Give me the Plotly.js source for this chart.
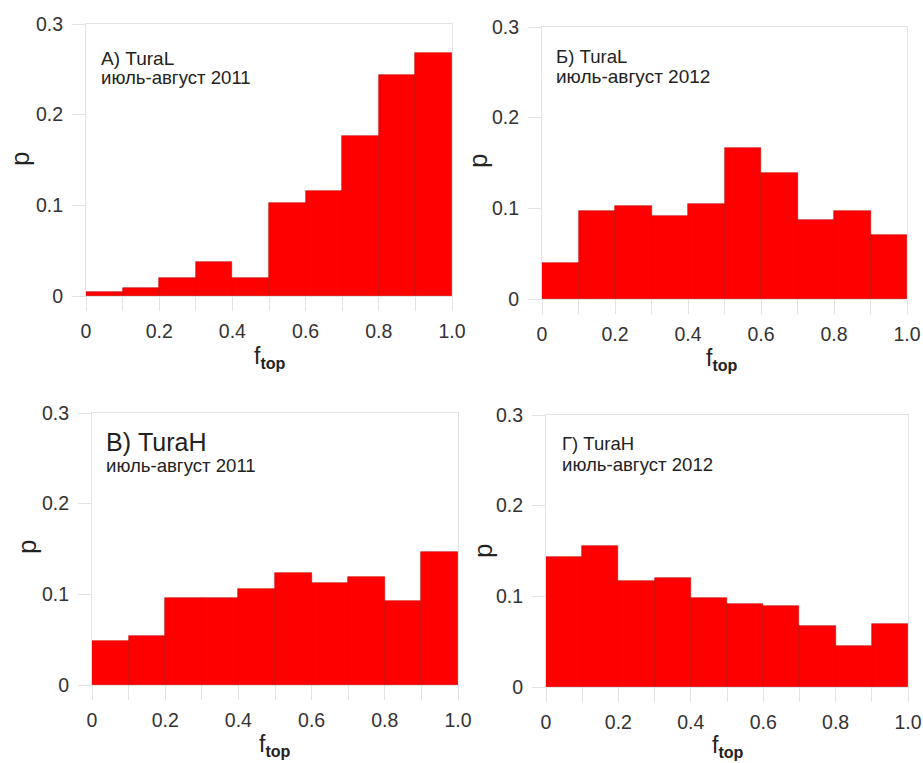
<!DOCTYPE html>
<html>
<head>
<meta charset="utf-8">
<script src="https://cdn.plot.ly/plotly-3.0.1.min.js"></script>
<style>html,body{margin:0;padding:0;background:#fff;}#chart{width:923px;height:763px;}</style>
</head>
<body>
<div id="chart"></div>
<script>
// ---- data ----
const binCenters = [0.05, 0.15, 0.25, 0.35, 0.45, 0.55, 0.65, 0.75, 0.85, 0.95];
const turaL2011 = [0.004, 0.009, 0.020, 0.038, 0.020, 0.103, 0.116, 0.177, 0.244, 0.268];
const turaL2012 = [0.040, 0.097, 0.103, 0.091, 0.105, 0.167, 0.139, 0.087, 0.097, 0.071];
const turaH2011 = [0.048, 0.054, 0.096, 0.096, 0.106, 0.124, 0.113, 0.119, 0.093, 0.147];
const turaH2012 = [0.143, 0.156, 0.117, 0.120, 0.098, 0.092, 0.089, 0.067, 0.045, 0.070];
const xTickVals = [0, 0.2, 0.4, 0.6, 0.8, 1.0];
const xTickText = ['0', '0.2', '0.4', '0.6', '0.8', '1.0'];
const xMinorTickVals = [0.1, 0.3, 0.5, 0.7, 0.9];
const yTickVals = [0, 0.1, 0.2, 0.3];
const yTickText = ['0', '0.1', '0.2', '0.3'];
const panelTitles = ['А) TuraL', 'Б) TuraL', 'В) TuraH', 'Г) TuraH'];
const panelSubtitles = ['июль-август 2011', 'июль-август 2012', 'июль-август 2011', 'июль-август 2012'];
const seriesList = [turaL2011, turaL2012, turaH2011, turaH2012];

// ---- layout helpers (pixel -> paper) ----
const W = 923, H = 763;
const px = x => x / W;
const py = y => 1 - y / H;

// plot areas in pixels [x0, x1, yTop, yBottom]
const boxes = [
  [86, 452, 24, 296],
  [542, 907, 27, 299],
  [92, 458, 413, 685],
  [546, 908, 415, 687]
];
const titleSizes = [[19, 18.6], [18.6, 19], [25, 18.6], [18.5, 18.6]];
const titlePos = [
  [[99, 58], [99, 78]],
  [[554, 56], [554, 76]],
  [[104, 442], [104, 465]],
  [[560, 443], [560, 464]]
];
const pPos = [[20, 159], [478, 161], [27, 547], [483, 551]];
const fPos = [[270, 357], [722, 359], [275, 745], [728, 746]];

const FONT = 'Arial, "Liberation Sans", sans-serif';
const gridGray = '#e3e3e3';

const traces = [];
const layout = {
  width: W, height: H,
  margin: {l: 0, r: 0, t: 0, b: 0},
  paper_bgcolor: '#fff', plot_bgcolor: '#fff',
  showlegend: false,
  bargap: 0,
  font: {family: FONT, color: '#333'},
  annotations: []
};

seriesList.forEach((vals, i) => {
  const n = i === 0 ? '' : String(i + 1);
  traces.push({
    type: 'bar', x: binCenters, y: vals, width: 0.1,
    xaxis: 'x' + n, yaxis: 'y' + n,
    marker: {color: '#ff0000', line: {color: '#c80000', width: 0.6}},
    hoverinfo: 'x+y'
  });
  const b = boxes[i];
  layout['xaxis' + n] = {
    domain: [px(b[0]), px(b[1])], anchor: 'y' + n,
    range: [0, 1], tickmode: 'array', tickvals: xTickVals, ticktext: xTickText,
    ticks: 'outside', ticklen: 14, tickcolor: gridGray, tickwidth: 1,
    minor: {tickmode: 'array', tickvals: xMinorTickVals, ticks: 'outside', ticklen: 14,
            tickcolor: gridGray, tickwidth: 1, showgrid: false},
    showline: true, linecolor: gridGray, mirror: true,
    showgrid: false, zeroline: false,
    tickfont: {family: FONT, size: 19.5, color: '#333'},
    ticklabelstandoff: 4, ticklabeloverflow: 'allow', fixedrange: true
  };
  layout['yaxis' + n] = {
    domain: [py(b[3]), py(b[2])], anchor: 'x' + n,
    range: [0, 0.3], tickmode: 'array', tickvals: yTickVals, ticktext: yTickText,
    ticks: 'outside', ticklen: 13, tickcolor: gridGray, tickwidth: 1,
    showline: true, linecolor: gridGray, mirror: true,
    showgrid: false, zeroline: false,
    tickfont: {family: FONT, size: 19.5, color: '#333'},
    ticklabelstandoff: 5, ticklabeloverflow: 'allow', fixedrange: true
  };
  const tp = titlePos[i];
  layout.annotations.push({
    xref: 'paper', yref: 'paper', x: px(tp[0][0]), y: py(tp[0][1]),
    xanchor: 'left', yanchor: 'middle', showarrow: false,
    text: panelTitles[i], font: {family: FONT, size: titleSizes[i][0], color: '#222'}
  });
  layout.annotations.push({
    xref: 'paper', yref: 'paper', x: px(tp[1][0]), y: py(tp[1][1]),
    xanchor: 'left', yanchor: 'middle', showarrow: false,
    text: panelSubtitles[i], font: {family: FONT, size: titleSizes[i][1], color: '#222'}
  });
  layout.annotations.push({
    xref: 'paper', yref: 'paper', x: px(pPos[i][0]), y: py(pPos[i][1]),
    xanchor: 'center', yanchor: 'middle', showarrow: false, textangle: -90,
    text: 'p', font: {family: FONT, size: 26, color: '#222'}
  });
  layout.annotations.push({
    xref: 'paper', yref: 'paper', x: px(fPos[i][0]), y: py(fPos[i][1]),
    xanchor: 'center', yanchor: 'middle', showarrow: false,
    text: 'f<sub><b>top</b></sub>', font: {family: FONT, size: 23, color: '#222'}
  });
});

Plotly.newPlot('chart', traces, layout, {displayModeBar: false});
</script>
</body>
</html>
